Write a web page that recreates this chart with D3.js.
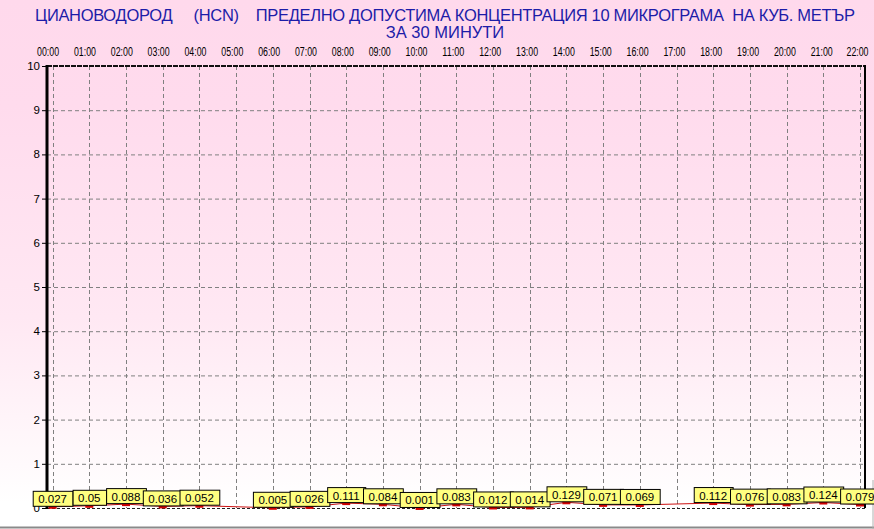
<!DOCTYPE html>
<html>
<head>
<meta charset="utf-8">
<script src="https://cdn.jsdelivr.net/npm/d3@7"></script>
<style>
  body { margin: 0; background: #fff; }
  svg { display: block; font-family: "Liberation Sans", Arial, sans-serif; }
</style>
</head>
<body>
<div class="chart"></div>
<script>
/* data */
const hours = ["00:00","01:00","02:00","03:00","04:00","05:00","06:00","07:00","08:00","09:00","10:00","11:00",
  "12:00","13:00","14:00","15:00","16:00","17:00","18:00","19:00","20:00","21:00","22:00"];
const values = [0.027, 0.05, 0.088, 0.036, 0.052, null, 0.005, 0.026, 0.111, 0.084, 0.001, 0.083,
  0.012, 0.014, 0.129, 0.071, 0.069, null, 0.112, 0.076, 0.083, 0.124, 0.079];
const yTicks = [0,1,2,3,4,5,6,7,8,9,10];
const titleLine1 = "ЦИАНОВОДОРОД     (HCN)    ПРЕДЕЛНО ДОПУСТИМА КОНЦЕНТРАЦИЯ 10 МИКРОГРАМА  НА КУБ. МЕТЪР";
const titleLine2 = "ЗА 30 МИНУТИ";

const width = 874, height = 529;
const plot = {left: 47, right: 865, top: 66, bottom: 508};

const svg = d3.select(".chart").append("svg")
  .attr("width", width)
  .attr("height", height);

/* background gradient */
const grad = svg.append("defs").append("linearGradient")
  .attr("id", "bg").attr("x1", 0).attr("y1", 0).attr("x2", 0).attr("y2", 1);
grad.append("stop").attr("offset", 0).attr("stop-color", "#ffd9ec");
grad.append("stop").attr("offset", 0.2).attr("stop-color", "#ffdbed");
grad.append("stop").attr("offset", 0.6).attr("stop-color", "#ffe8f3");
grad.append("stop").attr("offset", 0.88).attr("stop-color", "#fffafc");
grad.append("stop").attr("offset", 0.95).attr("stop-color", "#ffffff");

svg.append("rect").attr("width", width).attr("height", height).attr("fill", "url(#bg)");

// grey frame at right / bottom
svg.append("line").attr("x1", 0).attr("x2", width).attr("y1", height - 1.5).attr("y2", height - 1.5)
  .attr("stroke", "#8a8a8a").attr("stroke-width", 2);
svg.append("line").attr("x1", width - 1).attr("x2", width - 1).attr("y1", 480).attr("y2", height)
  .attr("stroke", "#b0b0b0").attr("stroke-width", 1);

/* scales */
const x = d3.scaleLinear().domain([0, 22]).range([52.6, 860]);
const y = d3.scaleLinear().domain([0, 10]).range([plot.bottom, plot.top]);

/* title */
const title = svg.append("g")
  .attr("fill", "#1c1ca8")
  .attr("font-size", "16.5px")
  .attr("text-anchor", "middle");
title.append("text").attr("xml:space", "preserve").style("white-space", "pre")
  .attr("x", 445).attr("y", 21).attr("textLength", 820).text(titleLine1);
title.append("text").attr("x", 445).attr("y", 38).text(titleLine2);

/* grid */
svg.append("g")
  .selectAll("line")
  .data(yTicks.filter(d => d > 0 && d < 10))
  .join("line")
  .attr("x1", plot.left).attr("x2", plot.right)
  .attr("y1", d => y(d) + 0.5).attr("y2", d => y(d) + 0.5)
  .attr("stroke", "#808080").attr("stroke-dasharray", "4,3");

svg.append("g")
  .selectAll("line")
  .data(hours.map((h, i) => i))
  .join("line")
  .attr("x1", d => Math.round(x(d)) + 0.5).attr("x2", d => Math.round(x(d)) + 0.5)
  .attr("y1", plot.top).attr("y2", plot.bottom)
  .attr("stroke", "#808080").attr("stroke-dasharray", "4,3");

/* frame */
svg.append("line").attr("x1", plot.left).attr("x2", plot.right).attr("y1", plot.top).attr("y2", plot.top)
  .attr("stroke", "#111").attr("stroke-width", 2).attr("stroke-dasharray", "5,1");
svg.append("line").attr("x1", plot.left).attr("x2", plot.right).attr("y1", plot.bottom + 0.5).attr("y2", plot.bottom + 0.5)
  .attr("stroke", "#222").attr("stroke-width", 1.2).attr("stroke-dasharray", "3,2");
svg.append("line").attr("x1", plot.right).attr("x2", plot.right).attr("y1", plot.top - 1).attr("y2", plot.bottom)
  .attr("stroke", "#000").attr("stroke-width", 2);
svg.append("line").attr("x1", plot.left).attr("x2", plot.left).attr("y1", plot.top - 1).attr("y2", plot.bottom + 1)
  .attr("stroke", "#000").attr("stroke-width", 3);

/* y axis labels + ticks */
const yAxis = svg.append("g").attr("font-size", "11.5px").attr("fill", "#000");
yAxis.selectAll("text")
  .data(yTicks)
  .join("text")
  .attr("x", 40).attr("y", d => y(d) + 4)
  .attr("text-anchor", "end")
  .text(d => d);
yAxis.selectAll("line")
  .data(yTicks)
  .join("line")
  .attr("x1", 42).attr("x2", 47)
  .attr("y1", d => y(d) + 0.5).attr("y2", d => y(d) + 0.5)
  .attr("stroke", "#000");

/* x axis labels (top) */
svg.append("g").attr("font-size", "12px").attr("fill", "#000")
  .selectAll("text")
  .data(hours)
  .join("text")
  .attr("x", (d, i) => Math.min(x(i) - 4.5 + i * 0.14, 857.5))
  .attr("y", 56)
  .attr("text-anchor", "middle")
  .attr("textLength", 22)
  .attr("lengthAdjust", "spacingAndGlyphs")
  .text(d => d);

/* series */
const pts = values.map((v, i) => ({i, v})).filter(d => d.v != null);

svg.append("path")
  .datum(pts)
  .attr("d", d3.line().x(d => x(d.i)).y(d => y(d.v)))
  .attr("fill", "none")
  .attr("stroke", "#cc1010")
  .attr("stroke-width", 1);

svg.append("g")
  .selectAll("rect")
  .data(pts)
  .join("rect")
  .attr("x", d => x(d.i) - 4).attr("y", d => y(d.v) - 2)
  .attr("width", 8).attr("height", 4)
  .attr("fill", "#d00000");

/* value labels */
const lab = svg.append("g").attr("font-size", "11.5px");
pts.forEach(d => {
  const g = lab.append("g");
  const t = g.append("text")
    .attr("x", x(d.i)).attr("y", y(d.v) - 3.5)
    .attr("text-anchor", "middle")
    .attr("fill", "#000")
    .text(d.v);
  const w = t.node().getComputedTextLength() + 11;
  g.insert("rect", "text")
    .attr("x", x(d.i) - w / 2 + 0.5).attr("y", y(d.v) - 15.5)
    .attr("width", w).attr("height", 15)
    .attr("fill", "#ffff80")
    .attr("stroke", "#000").attr("stroke-width", 1);
});
</script>
</body>
</html>
